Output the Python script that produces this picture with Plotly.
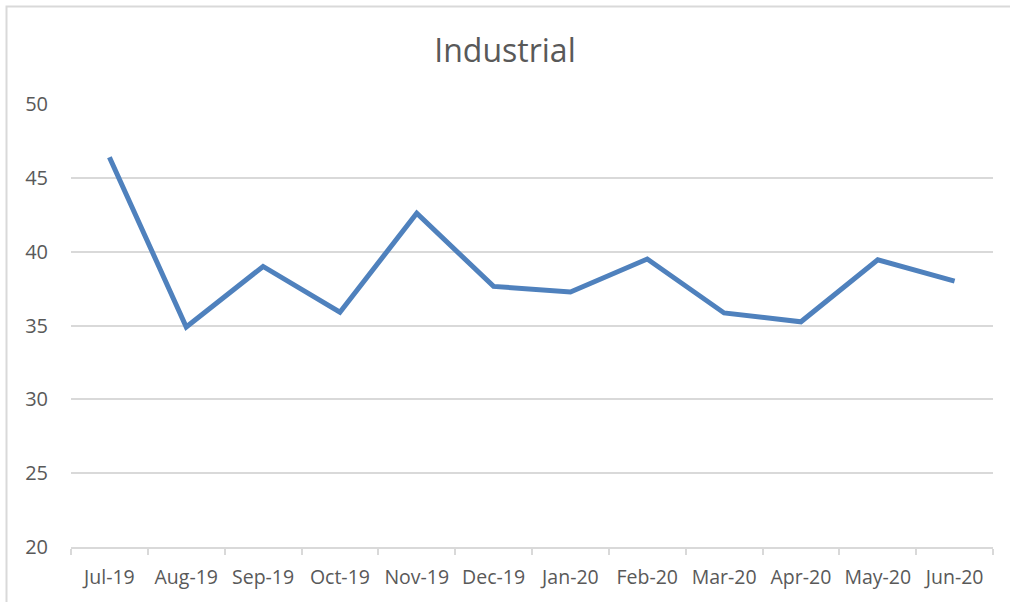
import plotly.graph_objects as go

months = ["Jul-19", "Aug-19", "Sep-19", "Oct-19", "Nov-19", "Dec-19",
          "Jan-20", "Feb-20", "Mar-20", "Apr-20", "May-20", "Jun-20"]
values = [46.4, 34.9, 39.0, 35.9, 42.6, 37.65, 37.27, 39.5, 35.85, 35.25, 39.45, 38.0]
y_ticks = [20, 25, 30, 35, 40, 45, 50]
title_text = "Industrial"

W, H = 1010, 602
L, R, T, B = 71, 17, 104, 55
pw, ph = W - L - R, H - T - B

FONT = "Open Sans"
GRAY_TXT = "#595959"
GRID = "#d9d9d9"

fig = go.Figure()
fig.add_trace(go.Scatter(
    x=months, y=values, mode="lines",
    line=dict(color="#4f81bd", width=5),
    hoverinfo="x+y",
))

# outer chart border (top and left visible, cropped on right/bottom)
def px_x(p):
    return (p - L) / pw

def px_y(p):
    return 1 - (p - T) / ph

fig.add_shape(type="rect", xref="paper", yref="paper",
              x0=px_x(6.5), x1=px_x(1015), y0=px_y(610), y1=px_y(6.5),
              line=dict(color=GRID, width=2), layer="below")

fig.update_layout(
    width=W, height=H,
    margin=dict(l=L, r=R, t=T, b=B, autoexpand=False),
    paper_bgcolor="white", plot_bgcolor="white",
    showlegend=False,
    title=dict(text=title_text, x=0.5, xref="container", xanchor="center",
               y=1 - 51 / H, yref="container", yanchor="middle",
               font=dict(family=FONT, size=32, color=GRAY_TXT)),
    font=dict(family=FONT, color=GRAY_TXT),
)
fig.update_xaxes(
    type="category", showgrid=False, automargin=False,
    showline=True, linecolor=GRID, linewidth=1.5,
    ticks="outside", tickson="boundaries", ticklen=6, tickcolor=GRID, tickwidth=1.5,
    tickangle=0,
    tickfont=dict(family=FONT, size=19.5, color=GRAY_TXT),
    ticklabelstandoff=12,
    range=[-0.5, len(months) - 0.5],
)
fig.update_yaxes(
    range=[20, 50], tickvals=y_ticks, automargin=False,
    showgrid=True, gridcolor=GRID, gridwidth=1.5,
    showline=False, zeroline=False, ticks="",
    tickfont=dict(family=FONT, size=20, color=GRAY_TXT),
    ticklabelstandoff=22,
)

fig.write_html("out.html",
               config={"displayModeBar": False},
               post_script="document.body.style.margin='0';document.body.style.overflow='hidden';")
